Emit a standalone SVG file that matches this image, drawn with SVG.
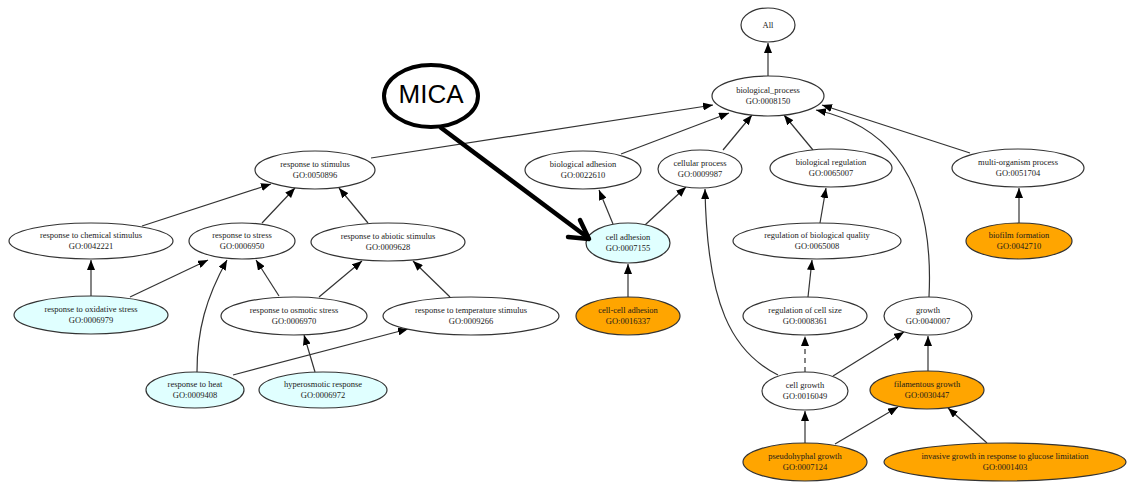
<svg xmlns="http://www.w3.org/2000/svg" width="1127" height="485" viewBox="0 0 1127 485">
<defs>
<style>
.n ellipse{fill:#ffffff;stroke:#333333;stroke-width:1.2}
.n.c ellipse{fill:#e0ffff}
.n.o ellipse{fill:#ffa500}
.n text{font-family:"Liberation Serif","Times New Roman",serif;font-size:8.5px;fill:#1a1a1a;text-anchor:middle}
.e path{fill:none;stroke:#333333;stroke-width:1.2;marker-end:url(#ah)}
.e path.d{stroke-dasharray:5,4}
</style>
<marker id="ah" markerUnits="userSpaceOnUse" markerWidth="10" markerHeight="8" refX="10" refY="4" orient="auto">
<path d="M0,0 L10,4 L0,8 z" fill="#000000"/>
</marker>
</defs>
<rect width="1127" height="485" fill="#ffffff"/>

<g id="connectors" class="e">
<path d="M768,76 L768,43"/>
<path d="M371,158 L713,105"/>
<path d="M621,154 L729,113"/>
<path d="M723,150 L752,115"/>
<path d="M813,150 L784,115"/>
<path d="M970,153 L822,105"/>
<path d="M929,297 C934,195 900,128 816,110"/>
<path d="M613,224 L599,190"/>
<path d="M645,225 L686,187"/>
<path d="M778,375 C732,352 707,305 705,189"/>
<path d="M628,297 L628,264"/>
<path d="M820,223 L826,188"/>
<path d="M808,297 L812,260"/>
<path class="d" d="M805,372 L805,336"/>
<path d="M833,376 L904,332"/>
<path d="M928,371 L928,336"/>
<path d="M1019,223 L1019,188"/>
<path d="M805,443 L805,411"/>
<path d="M835,444 L898,407"/>
<path d="M987,443 L948,408"/>
<path d="M142,226 L271,184"/>
<path d="M262,223 L295,188"/>
<path d="M368,223 L339,188"/>
<path d="M91,296 L91,260"/>
<path d="M130,297 L208,260"/>
<path d="M197,372 C197,330 206,298 227,260"/>
<path d="M279,296 L256,260"/>
<path d="M319,297 L362,261"/>
<path d="M450,297 L413,261"/>
<path d="M315,372 L304,335"/>
<path d="M233,375 L408,329"/>
</g>

<g id="n-all" class="n"><ellipse cx="768" cy="25" rx="27" ry="17"/><text x="768" y="28">All</text></g>
<g id="n-bp" class="n"><ellipse cx="768" cy="96" rx="56" ry="20"/><text x="768" y="92.5">biological_process</text><text x="768" y="103.5">GO:0008150</text></g>
<g id="n-rs" class="n"><ellipse cx="315" cy="170" rx="60" ry="19"/><text x="315" y="166.5">response to stimulus</text><text x="315" y="177.5">GO:0050896</text></g>
<g id="n-ba" class="n"><ellipse cx="583" cy="170" rx="58" ry="19"/><text x="583" y="166.5">biological adhesion</text><text x="583" y="177.5">GO:0022610</text></g>
<g id="n-cp" class="n"><ellipse cx="700" cy="169" rx="42" ry="19"/><text x="700" y="165.5">cellular process</text><text x="700" y="176.5">GO:0009987</text></g>
<g id="n-br" class="n"><ellipse cx="831" cy="168" rx="61" ry="19"/><text x="831" y="164.5">biological regulation</text><text x="831" y="175.5">GO:0065007</text></g>
<g id="n-mo" class="n"><ellipse cx="1018" cy="168" rx="66" ry="19"/><text x="1018" y="164.5">multi-organism process</text><text x="1018" y="175.5">GO:0051704</text></g>
<g id="n-rcs" class="n"><ellipse cx="91" cy="241" rx="82" ry="18"/><text x="91" y="237.5">response to chemical stimulus</text><text x="91" y="248.5">GO:0042221</text></g>
<g id="n-rst" class="n"><ellipse cx="242" cy="241" rx="53" ry="18"/><text x="242" y="237.5">response to stress</text><text x="242" y="248.5">GO:0006950</text></g>
<g id="n-ras" class="n"><ellipse cx="388" cy="242" rx="77" ry="19"/><text x="388" y="238.5">response to abiotic stimulus</text><text x="388" y="249.5">GO:0009628</text></g>
<g id="n-ca" class="n c"><ellipse cx="628" cy="243" rx="42" ry="20"/><text x="628" y="239.5">cell adhesion</text><text x="628" y="250.5">GO:0007155</text></g>
<g id="n-rbq" class="n"><ellipse cx="817" cy="241" rx="84" ry="18"/><text x="817" y="237.5">regulation of biological quality</text><text x="817" y="248.5">GO:0065008</text></g>
<g id="n-bf" class="n o"><ellipse cx="1019" cy="241" rx="53" ry="18"/><text x="1019" y="237.5">biofilm formation</text><text x="1019" y="248.5">GO:0042710</text></g>
<g id="n-ros" class="n c"><ellipse cx="91" cy="315" rx="77" ry="19"/><text x="91" y="311.5">response to oxidative stress</text><text x="91" y="322.5">GO:0006979</text></g>
<g id="n-rosm" class="n"><ellipse cx="294" cy="316" rx="73" ry="19"/><text x="294" y="312.5">response to osmotic stress</text><text x="294" y="323.5">GO:0006970</text></g>
<g id="n-rts" class="n"><ellipse cx="471" cy="316" rx="88" ry="19"/><text x="471" y="312.5">response to temperature stimulus</text><text x="471" y="323.5">GO:0009266</text></g>
<g id="n-cca" class="n o"><ellipse cx="628" cy="316" rx="52" ry="19"/><text x="628" y="312.5">cell-cell adhesion</text><text x="628" y="323.5">GO:0016337</text></g>
<g id="n-rcsz" class="n"><ellipse cx="805" cy="316" rx="62" ry="19"/><text x="805" y="312.5">regulation of cell size</text><text x="805" y="323.5">GO:0008361</text></g>
<g id="n-gr" class="n"><ellipse cx="928" cy="316" rx="44" ry="19"/><text x="928" y="312.5">growth</text><text x="928" y="323.5">GO:0040007</text></g>
<g id="n-rh" class="n c"><ellipse cx="195" cy="390" rx="49" ry="18"/><text x="195" y="386.5">response to heat</text><text x="195" y="397.5">GO:0009408</text></g>
<g id="n-hr" class="n c"><ellipse cx="323" cy="390" rx="64" ry="18"/><text x="323" y="386.5">hyperosmotic response</text><text x="323" y="397.5">GO:0006972</text></g>
<g id="n-cg" class="n"><ellipse cx="805" cy="391" rx="43" ry="19"/><text x="805" y="387.5">cell growth</text><text x="805" y="398.5">GO:0016049</text></g>
<g id="n-fg" class="n o"><ellipse cx="927" cy="390" rx="57" ry="19"/><text x="927" y="386.5">filamentous growth</text><text x="927" y="397.5">GO:0030447</text></g>
<g id="n-pg" class="n o"><ellipse cx="805" cy="462" rx="62" ry="19"/><text x="805" y="458.5">pseudohyphal growth</text><text x="805" y="469.5">GO:0007124</text></g>
<g id="n-ig" class="n o"><ellipse cx="1005" cy="462" rx="121" ry="19"/><text x="1005" y="458.5">invasive growth in response to glucose limitation</text><text x="1005" y="469.5">GO:0001403</text></g>

<g id="mica">
<ellipse cx="431" cy="96" rx="47" ry="31" fill="#ffffff" stroke="#000000" stroke-width="4"/>
<text x="431" y="103" font-family="'Liberation Sans',Arial,sans-serif" font-size="26" fill="#000000" text-anchor="middle">MICA</text>
<path d="M440,127 L587,237" fill="none" stroke="#000000" stroke-width="4.5"/>
<path d="M580,220 L589,239 L568,237" fill="none" stroke="#000000" stroke-width="4.5" stroke-linejoin="round" stroke-linecap="round"/>
</g>
</svg>
